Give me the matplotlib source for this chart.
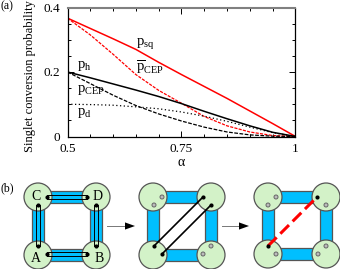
import numpy as np
import matplotlib
matplotlib.use("Agg")
import matplotlib.pyplot as plt
from matplotlib.patches import Circle, Rectangle, Polygon

plt.rcParams["font.family"] = ["Liberation Serif", "DejaVu Serif"]
plt.rcParams["mathtext.fontset"] = "custom"
plt.rcParams["mathtext.rm"] = "Liberation Serif"

# values
alpha = [0.5, 0.55, 0.6, 0.65, 0.7, 0.75, 0.8, 0.85, 0.9, 0.95, 1.0]
p_sq = [0.367, 0.335, 0.303, 0.27, 0.23, 0.192, 0.155, 0.118, 0.079, 0.04, 0.0]
p_cep_bar = [0.367, 0.315, 0.255, 0.192, 0.143, 0.103, 0.062, 0.033, 0.014, 0.003, 0.0]
p_h = [0.2, 0.182, 0.163, 0.144, 0.124, 0.102, 0.078, 0.055, 0.033, 0.013, 0.0]
p_cep = [0.2, 0.164, 0.128, 0.096, 0.07, 0.048, 0.029, 0.014, 0.005, 0.001, 0.0]
p_d = [0.1, 0.099, 0.097, 0.092, 0.086, 0.076, 0.063, 0.047, 0.029, 0.012, 0.0]

xticks = [0.5, 0.75, 1]
xticklabels = ["0.5", "0.75", "1"]
yticks = [0, 0.2, 0.4]
yticklabels = ["0", "0.2", "0.4"]

# diagram geometry, in picture pixels
squares = [(38, 96, 197, 255), (153, 211, 197, 255), (268, 326, 197, 254)]
node_names = [("C", 36, 197), ("D", 98, 196), ("A", 36, 258), ("B", 99, 258)]
double_bonds = [((47, 197), (87, 197)), ((47, 254), (87, 254)),
                ((38, 205), (38, 246)), ((96, 205), (96, 246))]
single_bonds = [((154, 246), (203, 197)), ((162, 254), (211, 205))]
red_bond = ((268, 246), (317, 197))
spins = [(162, 197), (154, 205), (211, 246), (203, 254),
         (276, 197), (268, 205), (326, 205), (276, 254), (326, 246), (318, 254)]
arrows = [(107, 125, 226), (222, 239, 226)]

radius = 14
GREEN = "#d3f2c8"
BLUE = "#00bfff"
EDGE = "#555555"


def draw_square(ax, x0, x1, y0, y1):
    w = 12
    for r in [(x0, y0 - w / 2, x1 - x0, w), (x0, y1 - w / 2, x1 - x0, w),
              (x0 - w / 2, y0, w, y1 - y0), (x1 - w / 2, y0, w, y1 - y0)]:
        ax.add_patch(Rectangle(r[:2], r[2], r[3], fc=BLUE, ec=EDGE, lw=0.9, zorder=1))
    for cx, cy in [(x0, y0), (x1, y0), (x0, y1), (x1, y1)]:
        ax.add_patch(Circle((cx, cy), radius, fc=GREEN, ec=EDGE, lw=0.9, zorder=2))


def dots(ax, p, q):
    ax.plot([p[0], q[0]], [p[1], q[1]], "o", color="k", ms=3, mew=0, zorder=5)


def double_bond(ax, p, q):
    # two thin lines side by side, meeting in the dots
    dx = 1.6 if p[0] == q[0] else 0
    dy = 1.6 if p[1] == q[1] else 0
    for s in (-1, 1):
        ax.plot([p[0] + s * dx, q[0] + s * dx], [p[1] + s * dy, q[1] + s * dy], color="k", lw=0.7, zorder=4)
    dots(ax, p, q)


def arrow(ax, x0, x1, y):
    ax.plot([x0, x1], [y, y], color="#777777", lw=0.7, zorder=1)
    ax.add_patch(Polygon([(x1, y - 3.6), (x1 + 10, y), (x1, y + 3.6)], fc="k", ec="k", lw=0))


fig = plt.figure(figsize=(3.4, 2.69), dpi=100)

ax = fig.add_axes([67.5 / 340, 1 - 136.5 / 269, 228 / 340, 129 / 269])
ax.plot(alpha, p_sq, color="#ff0000", lw=1.1)
ax.plot(alpha, p_cep_bar, color="#ff0000", lw=0.9, ls=(0, (2.5, 1)))
ax.plot(alpha, p_h, color="k", lw=1.1)
ax.plot(alpha, p_cep, color="k", lw=0.9, ls=(0, (3, 1.2)))
ax.plot(alpha, p_d, color="k", lw=0.9, ls=(0, (1, 2)))
ax.set_xlim(0.5, 1)
ax.set_ylim(0, 0.4)
ax.set_xticks(xticks)
ax.set_xticklabels(xticklabels)
ax.set_yticks(yticks)
ax.set_yticklabels(yticklabels)
ax.set_xticks(np.arange(0.5, 1.0, 0.05), minor=True)
ax.set_yticks(np.arange(0, 0.4, 0.05), minor=True)
ax.tick_params(which="both", direction="in", top=True, right=True, labelsize=9.5, pad=5, width=0.7)
ax.tick_params(which="major", length=4)
ax.tick_params(which="minor", length=2)
for side in ax.spines.values():
    side.set_linewidth(0.9)
ax.spines["top"].set_color("#808080")
ax.spines["top"].set_linewidth(1.5)

# overlay in pixel coordinates for the labels and the diagrams
ov = fig.add_axes([0, 0, 1, 1], facecolor="none")
ov.set_xlim(0, 340)
ov.set_ylim(269, 0)
ov.axis("off")
ov.text(0.5, 6, "(a)", fontsize=8.5, va="center")
ov.text(0.5, 188, "(b)", fontsize=8.5, va="center")
ov.text(30, 76, "Singlet conversion probability", fontsize=9, rotation=90, ha="center", va="center")
ov.text(181.5, 162, "α", fontsize=10, ha="center", va="center")

ov.text(136, 44, r"p$_{\mathrm{sq}}$", fontsize=10.5, va="center")
ov.text(136, 68, r"$\overline{\mathrm{p}}_{\mathrm{CEP}}$", fontsize=10.5, va="center")
ov.text(77, 66, r"p$_{\mathrm{h}}$", fontsize=10.5, va="center")
ov.text(77, 90, r"p$_{\mathrm{CEP}}$", fontsize=10.5, va="center")
ov.text(77, 113, r"p$_{\mathrm{d}}$", fontsize=10.5, va="center")

for sq in squares:
    draw_square(ov, *sq)
for name, cx, cy in node_names:
    ov.text(cx, cy, name, fontsize=10, ha="center", va="center", zorder=6)
for p, q in double_bonds:
    double_bond(ov, p, q)
for p, q in single_bonds:
    ov.plot([p[0], q[0]], [p[1], q[1]], color="k", lw=1.2, zorder=4)
    dots(ov, p, q)
ov.plot([red_bond[0][0], red_bond[1][0]], [red_bond[0][1], red_bond[1][1]],
        color="#ff0000", lw=2.2, ls=(0, (4, 1.7)), zorder=4)
dots(ov, *red_bond)
for x, y in spins:
    ov.add_patch(Circle((x, y), 2, fc="#bbbbbb", ec="#666666", lw=0.7, zorder=3))
for x0, x1, y in arrows:
    arrow(ov, x0, x1, y)

fig.savefig("out.png", dpi=100)
